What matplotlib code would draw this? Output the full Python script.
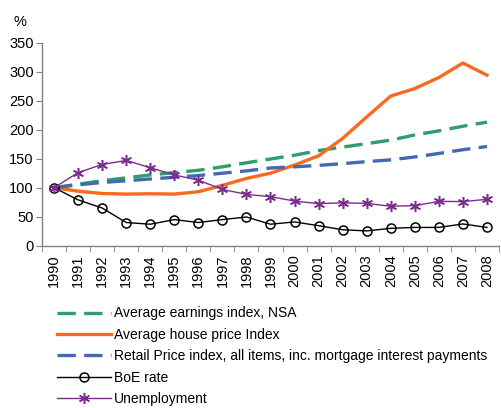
import matplotlib
matplotlib.use("Agg")
import matplotlib.pyplot as plt
import numpy as np

years = [str(y) for y in range(1990, 2009)]
earnings = [100, 106, 112, 117, 122, 126, 130, 136, 143, 149.5, 156, 164, 170, 176, 182, 191, 198, 206, 213]
house = [100, 94, 90, 89, 89.5, 89, 93, 104, 116, 125, 139, 155, 185, 222, 258, 271, 290, 315, 294]
retail = [100, 105, 109, 112, 115, 118, 121, 125, 129, 134, 136, 138.5, 141.5, 145, 148, 153, 159, 165.5, 171]
boe = [100, 79, 65, 40, 37, 45, 40, 45, 49.5, 37, 41, 34.5, 27.5, 25.5, 30, 31.5, 31.5, 37.5, 31.5]
unemp = [100, 126, 140, 147, 134.5, 122, 113, 97, 88.5, 84.5, 77, 72.5, 74, 73, 68, 69, 76.5, 76, 80]

plt.rcParams['font.family'] = ['Liberation Sans', 'DejaVu Sans']

fig = plt.figure(figsize=(5.02, 4.08), dpi=100)
ax = fig.add_axes([42/502, 1-245.7/408, (499-42)/502, (245.7-42.7)/408])

x = np.arange(len(years))
ax.plot(x, earnings, color='#2E9E6B', lw=2.4, dashes=(5.5, 2.5), label='Average earnings index, NSA')
ax.plot(x, house, color='#FA6A1E', lw=2.4, label='Average house price Index')
ax.plot(x, retail, color='#4468B4', lw=2.4, dashes=(5.5, 2.5),
        label='Retail Price index, all items, inc. mortgage interest payments')
ax.plot(x, boe, color='black', lw=1.0, marker='o', ms=6.5, mfc='none', mec='black', mew=1.1, label='BoE rate')
ax.plot(x, unemp, color='#7B2C8C', lw=1.0, marker=(6, 2, 0), ms=8, mec='#7B2C8C', mew=1.1, label='Unemployment')

ax.set_xlim(-0.5, len(years) - 0.5)
ax.set_ylim(0, 350)
ax.set_yticks(np.arange(0, 351, 50))
ax.set_xticks(x)
ax.set_xticklabels(years, rotation=90)
ax.set_xticks(np.arange(-0.5, len(years), 1), minor=True)
ax.tick_params(axis='x', which='major', length=0, pad=6, labelsize=10.5)
ax.tick_params(axis='x', which='minor', length=4, direction='out', color='#808080')
ax.tick_params(axis='y', length=4, direction='out', color='#808080', labelsize=10.5, pad=2)
for s in ['top', 'right']:
    ax.spines[s].set_visible(False)
for s in ['left', 'bottom']:
    ax.spines[s].set_color('#808080')
    ax.spines[s].set_linewidth(1.0)

fig.text(13/502, 1-22.5/408, '%', fontsize=10.5, ha='left', va='center')

leg = fig.legend(loc='upper left', bbox_to_anchor=(57/502, 1-306.5/408), frameon=False,
                 fontsize=10, handlelength=3.9, handletextpad=0.2, labelspacing=0.53,
                 borderaxespad=0, borderpad=0)

fig.savefig('out.png', dpi=100)
